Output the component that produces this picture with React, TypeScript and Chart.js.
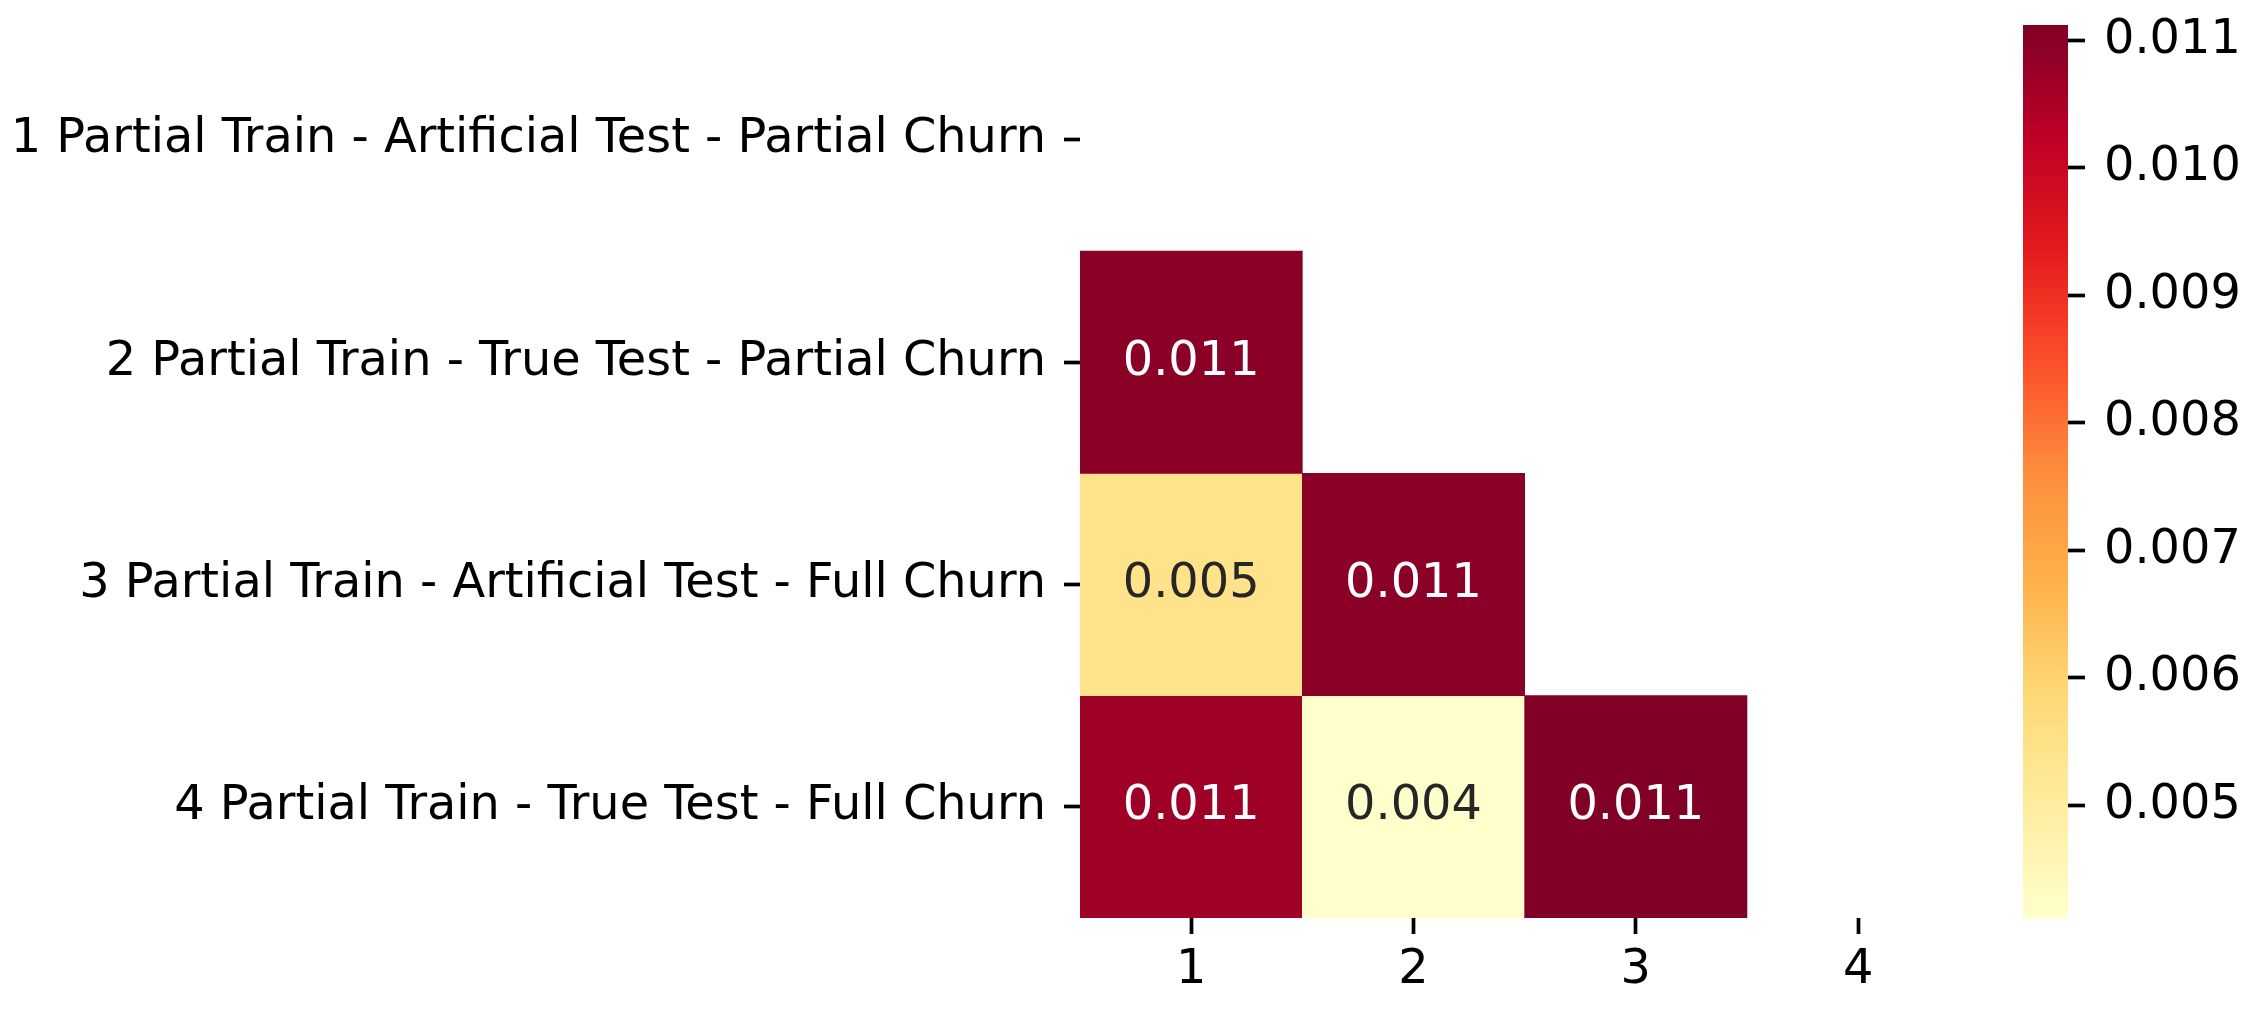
import React, { useEffect, useRef } from "react";
import { Chart, registerables } from "chart.js";

Chart.register(...registerables);

// ---- data ----
const rowLabels = [
  "1 Partial Train - Artificial Test - Partial Churn",
  "2 Partial Train - True Test - Partial Churn",
  "3 Partial Train - Artificial Test - Full Churn",
  "4 Partial Train - True Test - Full Churn",
];
const colLabels = ["1", "2", "3", "4"];
const row1Values: (number | null)[] = [null, null, null, null];
const row2Values: (number | null)[] = [0.01098, null, null, null];
const row3Values: (number | null)[] = [0.00542, 0.01098, null, null];
const row4Values: (number | null)[] = [0.01068, 0.00411, 0.01112, null];
const colorbarTicks = [0.005, 0.006, 0.007, 0.008, 0.009, 0.01, 0.011];

const rows = [row1Values, row2Values, row3Values, row4Values];
const allVals = rows.flat().filter((v) => v !== null) as number[];
const vmin = Math.min(...allVals);
const vmax = Math.max(...allVals);

const YLORRD = [
  "#ffffcc", "#ffeda0", "#fed976", "#feb24c", "#fd8d3c",
  "#fc4e2a", "#e31a1c", "#bd0026", "#800026",
];

function hexToRgb(h: string) {
  return [parseInt(h.slice(1, 3), 16), parseInt(h.slice(3, 5), 16), parseInt(h.slice(5, 7), 16)];
}
function cmap(t: number): number[] {
  const tt = Math.max(0, Math.min(1, t)) * (YLORRD.length - 1);
  const i = Math.min(Math.floor(tt), YLORRD.length - 2);
  const f = tt - i;
  const a = hexToRgb(YLORRD[i]);
  const b = hexToRgb(YLORRD[i + 1]);
  return [0, 1, 2].map((k) => Math.round(a[k] + (b[k] - a[k]) * f));
}
function colorFor(v: number) {
  const c = cmap((v - vmin) / (vmax - vmin));
  return `rgb(${c[0]},${c[1]},${c[2]})`;
}
function textColorFor(v: number) {
  const c = cmap((v - vmin) / (vmax - vmin)).map((x) => {
    const s = x / 255;
    return s <= 0.03928 ? s / 12.92 : Math.pow((s + 0.055) / 1.055, 2.4);
  });
  const lum = 0.2126 * c[0] + 0.7152 * c[1] + 0.0722 * c[2];
  return lum > 0.408 ? "#262626" : "#ffffff";
}

const FONT = "'DejaVu Sans', sans-serif";
const FS = 47.8;

function zeroPad(scale: any) {
  scale.paddingTop = 0;
  scale.paddingBottom = 0;
  scale.paddingLeft = 0;
  scale.paddingRight = 0;
}

export default function App() {
  const mainRef = useRef<HTMLCanvasElement>(null);
  const barRef = useRef<HTMLCanvasElement>(null);

  useEffect(() => {
    const annotate = {
      id: "annotate",
      afterDatasetsDraw(chart: any) {
        const ctx = chart.ctx;
        ctx.save();
        ctx.font = `${FS}px ${FONT}`;
        ctx.textAlign = "center";
        ctx.textBaseline = "middle";
        chart.data.datasets.forEach((ds: any, di: number) => {
          const meta = chart.getDatasetMeta(di);
          meta.data.forEach((el: any, j: number) => {
            const v = rows[di][j];
            if (v === null || v === undefined) return;
            ctx.fillStyle = textColorFor(v);
            ctx.fillText(v.toFixed(3), el.x, (el.y + el.base) / 2);
          });
        });
        ctx.restore();
      },
    };

    const main = new Chart(mainRef.current!, {
      type: "bar",
      data: {
        labels: colLabels,
        datasets: rows.map((r, i) => ({
          label: rowLabels[i],
          data: r.map((v) => (v === null ? null : [i, i + 1])) as any,
          backgroundColor: r.map((v) => (v === null ? "rgba(0,0,0,0)" : colorFor(v))),
          borderWidth: 0,
          borderSkipped: false,
          grouped: false,
          barPercentage: 1,
          categoryPercentage: 1,
        })),
      },
      options: {
        responsive: false,
        animation: false,
        events: [],
        layout: { padding: { top: 28.7, right: 20.7, bottom: 0, left: 0 } },
        plugins: { legend: { display: false }, tooltip: { enabled: false } },
        scales: {
          x: {
            type: "category",
            offset: true,
            border: { display: false },
            grid: {
              offset: false,
              drawOnChartArea: false,
              drawTicks: true,
              tickLength: 16,
              tickWidth: 3.7,
              tickColor: "#000",
            },
            ticks: {
              color: "#000",
              font: { family: FONT, size: FS },
              padding: 8,
              maxRotation: 0,
            },
            afterFit(scale: any) {
              scale.height = 91;
              zeroPad(scale);
            },
          },
          y: {
            type: "linear",
            min: 0,
            max: 4,
            reverse: true,
            border: { display: false },
            grid: {
              drawOnChartArea: false,
              drawTicks: true,
              tickLength: 16,
              tickWidth: 3.7,
              tickColor: "#000",
            },
            ticks: {
              color: "#000",
              font: { family: FONT, size: FS },
              padding: 18,
              callback: (v: any) => rowLabels[Math.floor(Number(v))] ?? "",
            },
            afterBuildTicks(scale: any) {
              scale.ticks = rowLabels.map((_, i) => ({ value: i + 0.5 }));
            },
            afterFit(scale: any) {
              scale.width = 1080;
              zeroPad(scale);
            },
          },
        },
      },
      plugins: [annotate],
    } as any);

    const bar = new Chart(barRef.current!, {
      type: "bar",
      data: {
        labels: ["cb"],
        datasets: [
          {
            data: [[vmin, vmax]] as any,
            borderWidth: 0,
            borderSkipped: false,
            barPercentage: 1,
            categoryPercentage: 1,
            backgroundColor: (ctx: any) => {
              const area = ctx.chart.chartArea;
              if (!area) return YLORRD[4];
              const g = ctx.chart.ctx.createLinearGradient(0, area.bottom, 0, area.top);
              YLORRD.forEach((c, i) => g.addColorStop(i / (YLORRD.length - 1), c));
              return g;
            },
          },
        ],
      },
      options: {
        responsive: false,
        animation: false,
        events: [],
        layout: { padding: { top: 25, bottom: 90, left: 0, right: 0 } },
        plugins: { legend: { display: false }, tooltip: { enabled: false } },
        scales: {
          x: {
            display: false,
            offset: true,
            afterFit(scale: any) {
              zeroPad(scale);
            },
          },
          y: {
            type: "linear",
            position: "right",
            min: vmin,
            max: vmax,
            border: { display: false },
            grid: {
              drawOnChartArea: false,
              drawTicks: true,
              tickLength: 17,
              tickWidth: 3.7,
              tickColor: "#000",
            },
            ticks: {
              color: "#000",
              font: { family: FONT, size: FS },
              padding: 19,
              callback: (v: any) => Number(v).toFixed(3),
            },
            afterBuildTicks(scale: any) {
              scale.ticks = colorbarTicks.map((v) => ({ value: v }));
            },
            afterFit(scale: any) {
              scale.width = 188;
              zeroPad(scale);
            },
          },
        },
      },
    } as any);

    return () => {
      main.destroy();
      bar.destroy();
    };
  }, []);

  return (
    <div
      style={{
        position: "fixed",
        left: 0,
        top: 0,
        width: 2256,
        height: 1009,
        background: "#fff",
        overflow: "hidden",
      }}
    >
      <canvas
        ref={mainRef}
        width={1990}
        height={1009}
        style={{ position: "absolute", left: 0, top: 0, width: 1990, height: 1009 }}
      />
      <canvas
        ref={barRef}
        width={233}
        height={1009}
        style={{ position: "absolute", left: 2023, top: 0, width: 233, height: 1009 }}
      />
    </div>
  );
}
